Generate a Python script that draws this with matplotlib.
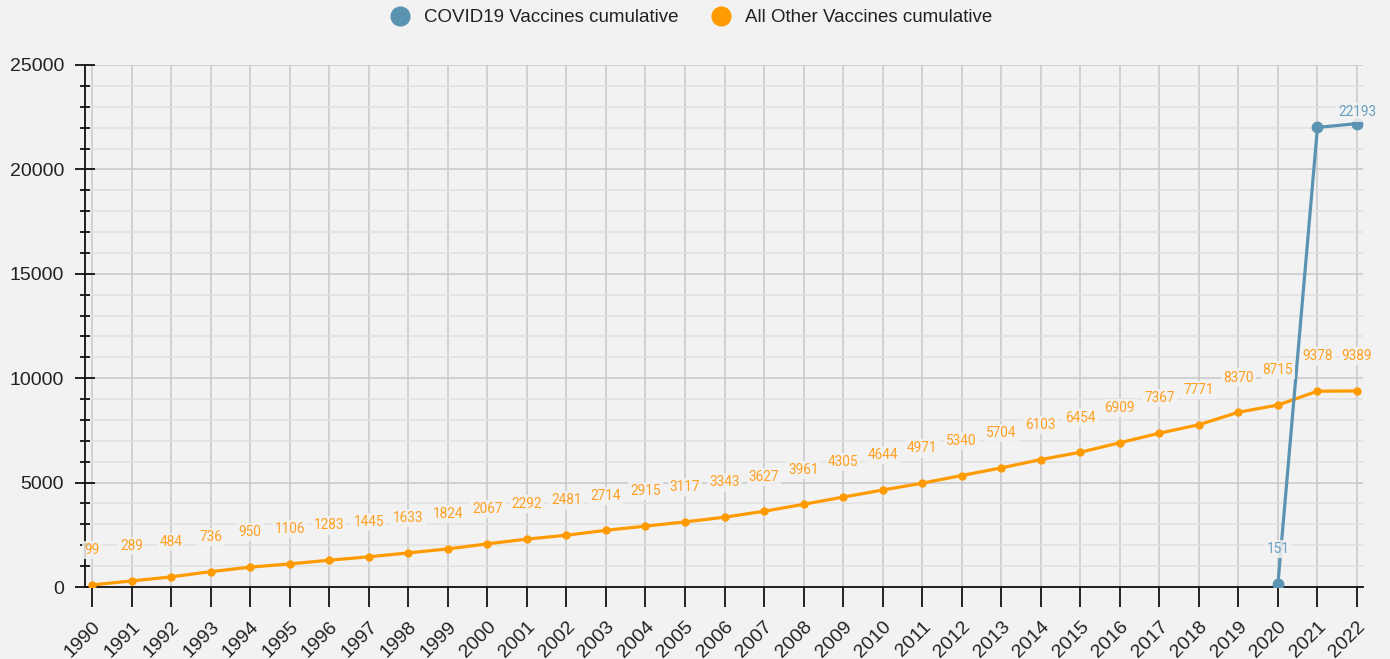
import matplotlib
matplotlib.use('Agg')
import matplotlib.pyplot as plt
from matplotlib.lines import Line2D
from matplotlib.ticker import MultipleLocator

# data
years = list(range(1990, 2023))
other_cum = [99, 289, 484, 736, 950, 1106, 1283, 1445, 1633, 1824,
             2067, 2292, 2481, 2714, 2915, 3117, 3343, 3627, 3961, 4305,
             4644, 4971, 5340, 5704, 6103, 6454, 6909, 7367, 7771, 8370,
             8715, 9378, 9389]
covid_years = [2020, 2021, 2022]
covid_cum = [151, 22010, 22193]
covid_labelled = [True, False, True]   # 2021 label is hidden in the original

BLUE = '#5b93b3'
ORANGE = '#ff9b00'
BG = '#f2f2f2'

plt.rcParams['font.family'] = ['Liberation Sans', 'DejaVu Sans']

fig = plt.figure(figsize=(13.9, 6.59), dpi=100, facecolor=BG)
ax = fig.add_axes([85 / 1390, 72 / 659, 1278 / 1390, 522 / 659], facecolor=BG)

ax.plot(years, other_cum, color=ORANGE, lw=2.3, marker='o', ms=5, zorder=3)
ax.plot(covid_years, covid_cum, color=BLUE, lw=2.3, marker='o', ms=7.5, zorder=4)

lab_bbox = dict(boxstyle='square,pad=0.15', fc=BG, ec='none', alpha=0.85)
for x, v in zip(years, other_cum):
    ax.annotate(str(v), (x, v), xytext=(0, 25), textcoords='offset points',
                ha='center', va='center', fontsize=9.8, family='Roboto',
                color='#ffa022', bbox=lab_bbox, zorder=5)
for x, v, show in zip(covid_years, covid_cum, covid_labelled):
    if not show:
        continue
    off = 25 if v < 20000 else 8   # keep top label inside the plot
    ax.annotate(str(v), (x, v), xytext=(0, off), textcoords='offset points',
                ha='center', va='center', fontsize=9.8, family='Roboto',
                color='#6a9fc0', bbox=lab_bbox, zorder=5)

ax.set_xlim(1990 - 7 / 39.53, 2022 + 6 / 39.53)
ax.set_ylim(0, 25000)
ax.set_xticks(years)
ax.set_xticklabels([str(y) for y in years], rotation=45, ha='right',
                   rotation_mode='anchor', fontsize=14, color='#222222')
ax.yaxis.set_major_locator(MultipleLocator(5000))
ax.yaxis.set_minor_locator(MultipleLocator(1000))
ax.tick_params(axis='y', which='major', direction='inout', length=14.4, width=1.2,
               labelsize=14, labelcolor='#222222', pad=8)
ax.tick_params(axis='y', which='minor', direction='inout', length=7.2, width=1.2)
ax.tick_params(axis='x', direction='out', length=14.4, width=1.2, pad=8)
for lab in ax.get_xticklabels():
    lab.set_x(lab.get_position()[0])

ax.grid(True, which='major', color='#c8c8c8', lw=1.1, zorder=0)
ax.grid(True, which='minor', axis='y', color='#e0e0e0', lw=1.1, zorder=0)
ax.set_axisbelow(True)
for s in ['top', 'right']:
    ax.spines[s].set_visible(False)
for s in ['left', 'bottom']:
    ax.spines[s].set_color('#111111')
    ax.spines[s].set_linewidth(1.3)

handles = [Line2D([], [], ls='none', marker='o', ms=13.5, color=BLUE),
           Line2D([], [], ls='none', marker='o', ms=13.5, color=ORANGE)]
fig.legend(handles, ['COVID19 Vaccines cumulative', 'All Other Vaccines cumulative'],
           loc='upper center', bbox_to_anchor=(0.494, 1.012), ncol=2, frameon=False,
           fontsize=13.5, handletextpad=0.25, columnspacing=1.3,
           labelcolor='#222222')

fig.savefig('out.png', dpi=100, facecolor=BG)
